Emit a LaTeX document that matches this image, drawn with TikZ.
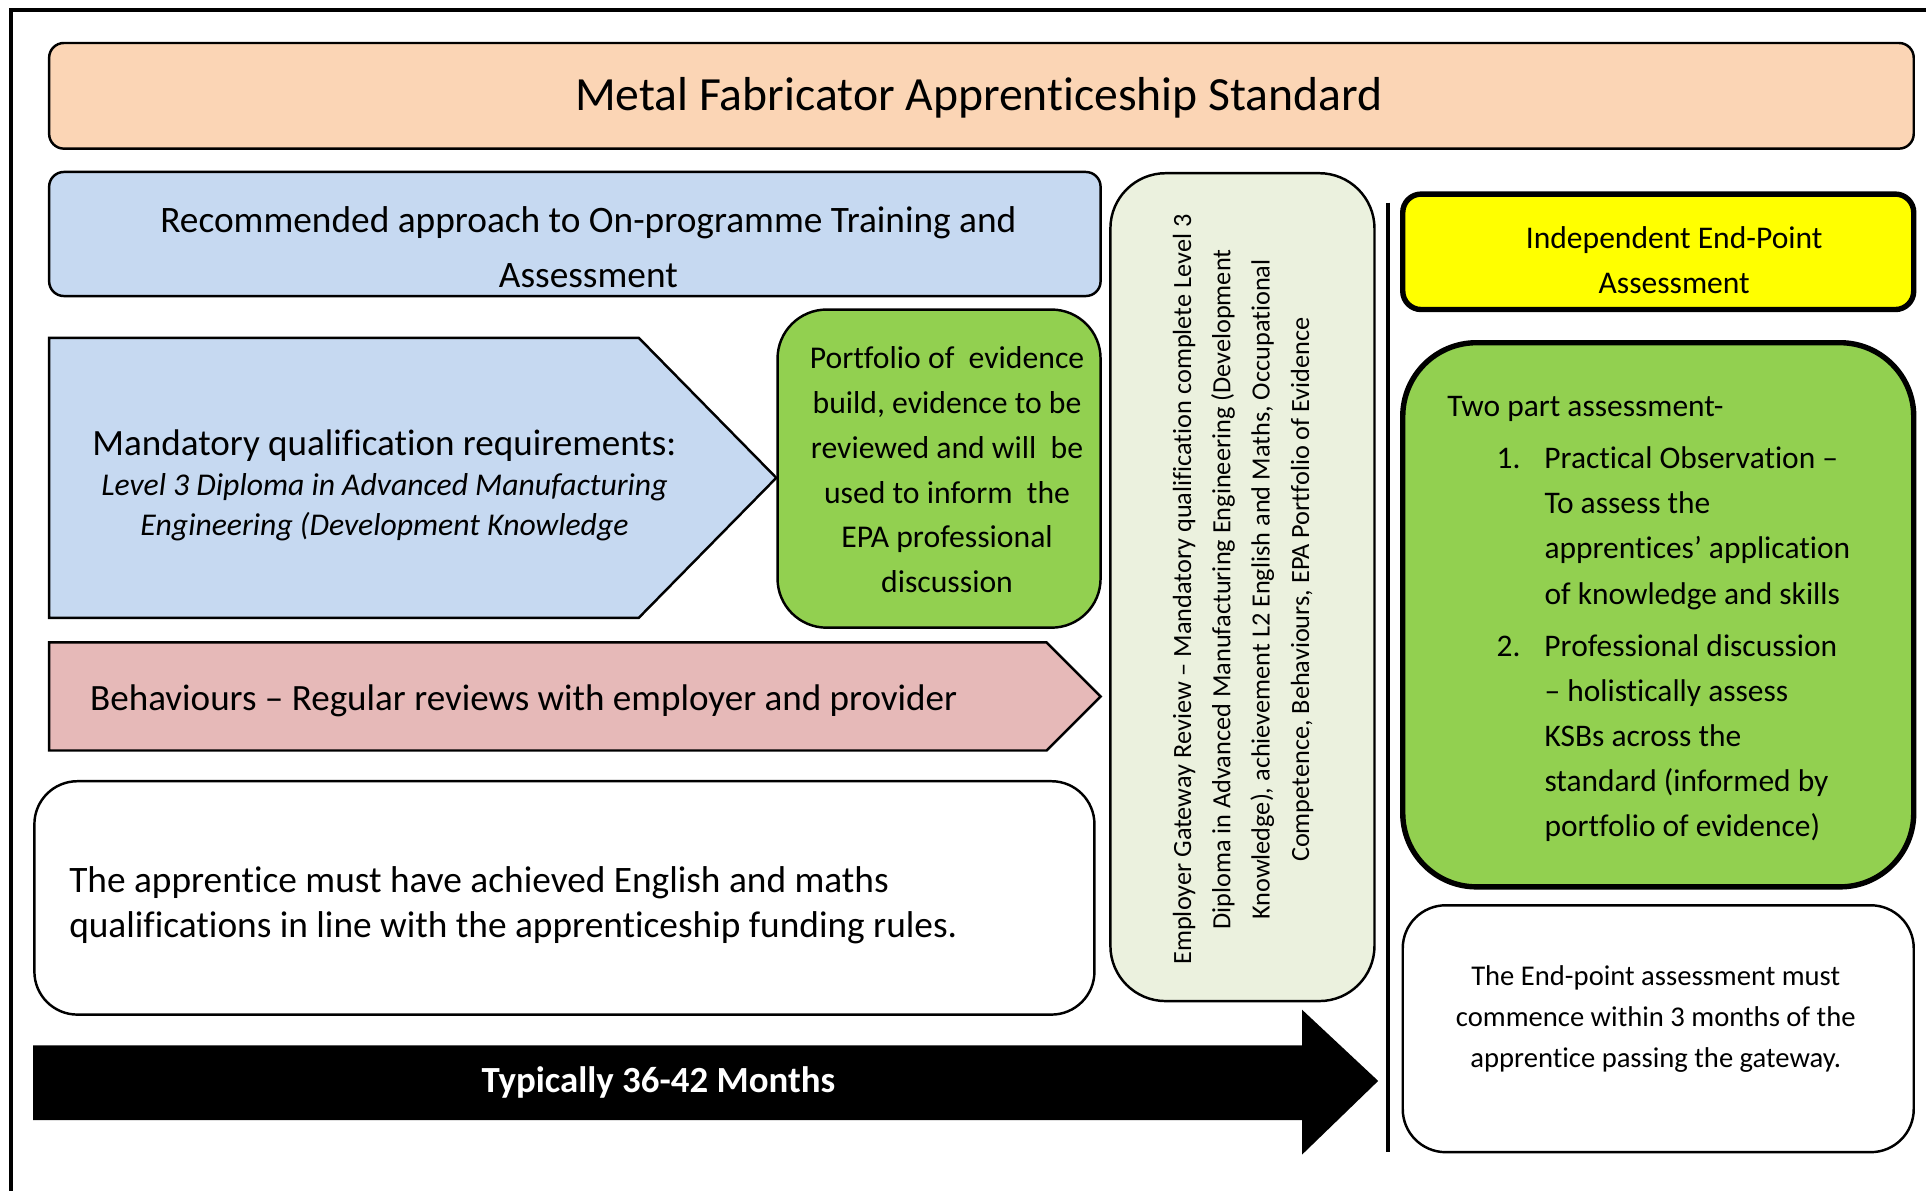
\documentclass[tikz,border=0pt]{standalone}
\usepackage{fontspec}
\setmainfont{Carlito}[Ligatures=NoCommon]
\definecolor{peach}{HTML}{FBD5B5}
\definecolor{lblue}{HTML}{C6D9F1}
\definecolor{pgreen}{HTML}{92D050}
\definecolor{pink}{HTML}{E6B9B8}
\definecolor{pale}{HTML}{EBF1DE}
\definecolor{yel}{HTML}{FFFF00}
\newcommand\myfs[2]{\fontsize{#1}{#2}\selectfont}
\begin{document}
\begin{tikzpicture}[x=0.5pt,y=-0.5pt,
  box/.style={draw, line width=1pt, inner sep=0pt},
  thickbox/.style={draw, line width=2.2pt, inner sep=0pt},
  txt/.style={inner sep=0pt, align=center, text=black}]
\useasboundingbox (0,0) rectangle (1568,969.6);
% outer frame
\draw[line width=1.6pt] (9,980) -- (9,8) -- (1580,8);
% title
\node[box, fill=peach, rounded corners=6pt, minimum width=759pt, minimum height=43pt] (title) at (799,78) {};
\node[txt, font=\myfs{19.4}{23}] (titletext) at (797,80) {Metal Fabricator Apprenticeship Standard};
% header
\node[box, fill=lblue, rounded corners=6pt, minimum width=428pt, minimum height=50.5pt] (header) at (468,190.5) {};
\node[txt, font=\myfs{15.2}{22.5}] (headertext) at (479,201)
  {Recommended approach to On-programme Training and\\Assessment};
% mandatory pentagon
\path[box, fill=lblue] (40,275) -- (520,275) -- (632,389) -- (520,503) -- (40,503) -- cycle;
\node[txt, font=\myfs{15.1}{18}] (mandhead) at (313,362.5) {Mandatory qualification requirements:};
\node[txt, font=\itshape\myfs{12.9}{16}] (mandsub) at (313,413)
  {Level 3 Diploma in Advanced Manufacturing\\Engineering (Development Knowledge};
% portfolio
\node[box, fill=pgreen, rounded corners=20pt, minimum width=131.5pt, minimum height=129.5pt] (portfolio) at (764.5,381.5) {};
\node[txt, font=\myfs{12.9}{18.25}] (portfoliotext) at (771,382.5)
  {Portfolio of\ \ evidence\\build, evidence to be\\reviewed and will\ \ be\\used to inform\ \ the\\EPA professional\\discussion};
% behaviours arrow
\path[box, fill=pink] (40,523) -- (852,523) -- (896,567) -- (852,611) -- (40,611) -- cycle;
\node[txt, anchor=west, font=\myfs{15.1}{18}] (behavtext) at (73,570.5)
  {Behaviours – Regular reviews with employer and provider};
% english box
\node[box, fill=white, rounded corners=17.5pt, minimum width=431.5pt, minimum height=95pt] (english) at (459.5,731) {};
\node[txt, align=left, anchor=west, font=\myfs{15.2}{18.5}] (englishtext) at (56,737)
  {The apprentice must have achieved English and maths\\qualifications in line with the apprenticeship funding rules.};
% black timeline arrow
\fill[black] (27,851) -- (1060,851) -- (1060,822) -- (1122,880) -- (1060,940) -- (1060,912) -- (27,912) -- cycle;
\node[txt, text=white, font=\bfseries\myfs{15}{18}] (months) at (536,881) {Typically 36-42 Months};
% gateway
\node[box, fill=pale, rounded corners=22.5pt, minimum width=107.5pt, minimum height=337pt] (gateway) at (1011.5,478) {};
\node[txt, rotate=90, font=\myfs{10.7}{16}] (gatewaytext) at (1012,480)
  {Employer Gateway Review – Mandatory qualification complete Level 3\\
   Diploma in Advanced Manufacturing Engineering (Development\\
   Knowledge), achievement L2 English and Maths, Occupational\\
   Competence, Behaviours, EPA Portfolio of Evidence};
% divider
\coordinate (divtop) at (1130,165);
\coordinate (divbot) at (1130,938);
\draw[line width=2pt] (divtop) -- (divbot);
% independent EPA
\node[thickbox, fill=yel, rounded corners=7.5pt, minimum width=208pt, minimum height=47pt] (epa) at (1350,205) {};
\node[txt, font=\myfs{12.85}{18.5}] (epatext) at (1363,212) {Independent End-Point\\Assessment};
% two part assessment
\node[thickbox, fill=pgreen, rounded corners=30pt, minimum width=208pt, minimum height=221.5pt] (twopart) at (1350,500.5) {};
\node[txt, align=left, anchor=west, font=\myfs{12.8}{18.4}] (twoparttext) at (1178,504)
  {Two part assessment-\\[2.8pt]
   \hspace*{20pt}\makebox[19.5pt][l]{1.}Practical Observation –\\
   \hspace*{39.5pt}To assess the\\
   \hspace*{39.5pt}apprentices’ application\\
   \hspace*{39.5pt}of knowledge and skills\\[2.8pt]
   \hspace*{20pt}\makebox[19.5pt][l]{2.}Professional discussion\\
   \hspace*{39.5pt}– holistically assess\\
   \hspace*{39.5pt}KSBs across the\\
   \hspace*{39.5pt}standard (informed by\\
   \hspace*{39.5pt}portfolio of evidence)};
% end box
\node[box, fill=white, rounded corners=17.5pt, minimum width=208pt, minimum height=100.5pt] (endbox) at (1350,837.5) {};
\node[txt, font=\myfs{11.65}{16.75}] (endtext) at (1348,829.5)
  {The End-point assessment must\\commence within 3 months of the\\apprentice passing the gateway.};
\end{tikzpicture}
\end{document}
